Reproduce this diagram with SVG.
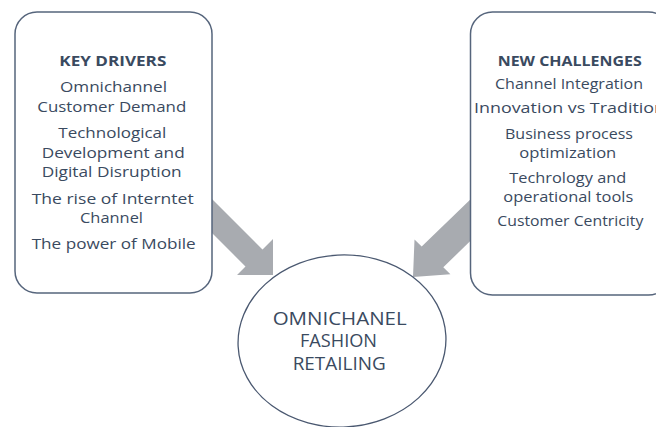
<svg xmlns="http://www.w3.org/2000/svg" width="656" height="427" viewBox="0 0 656 427">
  <style>
    .box { fill: #ffffff; stroke: #56657c; stroke-width: 1.5; }
    .arrow { fill: #a8abb0; stroke: none; }
    .t { font-family: "Open Sans", "Noto Sans", "Liberation Sans", sans-serif; font-size: 15px; fill: #3a4a60; }
    .h { font-weight: bold; }
    .c { font-size: 18px; }
  </style>
  <rect x="0" y="0" width="656" height="427" fill="#ffffff"/>
  <g id="connectors">
    <polygon class="arrow" points="200,187 262.5,249.5 273,239 273,275 237,275 245.5,266.5 200,221"/>
    <polygon class="arrow" points="475,195 421.7,246.5 414.5,239.5 413,277 450.4,274.3 443.3,267.3 497,215"/>
  </g>
  <g id="key-drivers">
    <rect class="box" x="15" y="12" width="197" height="281" rx="22" ry="22"/>
    <text class="t h" x="59.3" y="65.7" textLength="107" lengthAdjust="spacingAndGlyphs">KEY DRIVERS</text>
    <text class="t" x="60" y="92" textLength="107" lengthAdjust="spacingAndGlyphs">Omnichannel</text>
    <text class="t" x="37.3" y="111.7" textLength="149" lengthAdjust="spacingAndGlyphs">Customer Demand</text>
    <text class="t" x="58.3" y="138.3" textLength="108" lengthAdjust="spacingAndGlyphs">Technological</text>
    <text class="t" x="41.7" y="157.7" textLength="143" lengthAdjust="spacingAndGlyphs">Development and</text>
    <text class="t" x="41.7" y="176.7" textLength="140" lengthAdjust="spacingAndGlyphs">Digital Disruption</text>
    <text class="t" x="31.7" y="204" textLength="162" lengthAdjust="spacingAndGlyphs">The rise of Interntet</text>
    <text class="t" x="80" y="222.7" textLength="63" lengthAdjust="spacingAndGlyphs">Channel</text>
    <text class="t" x="31.7" y="249.3" textLength="164" lengthAdjust="spacingAndGlyphs">The power of Mobile</text>
  </g>
  <g id="new-challenges">
    <rect class="box" x="470.5" y="12" width="200" height="283" rx="22" ry="22"/>
    <text class="t h" x="497.7" y="65.7" textLength="144" lengthAdjust="spacingAndGlyphs">NEW CHALLENGES</text>
    <text class="t" x="495" y="89" textLength="148" lengthAdjust="spacingAndGlyphs">Channel Integration</text>
    <text class="t" x="474" y="113.3" textLength="191" lengthAdjust="spacingAndGlyphs">Innovation vs Tradition</text>
    <text class="t" x="505" y="139" textLength="128" lengthAdjust="spacingAndGlyphs">Business process</text>
    <text class="t" x="519.3" y="158" textLength="97" lengthAdjust="spacingAndGlyphs">optimization</text>
    <text class="t" x="509.3" y="183" textLength="117" lengthAdjust="spacingAndGlyphs">Techrology and</text>
    <text class="t" x="503.3" y="202" textLength="130" lengthAdjust="spacingAndGlyphs">operational tools</text>
    <text class="t" x="497.3" y="226" textLength="146" lengthAdjust="spacingAndGlyphs">Customer Centricity</text>
  </g>
  <g id="omnichannel-retailing">
    <ellipse cx="342" cy="341" rx="104" ry="86" fill="#ffffff" stroke="#4a5870" stroke-width="1.3" transform="rotate(-3 342 341)"/>
    <text class="t c" x="272.7" y="324.5" textLength="134" lengthAdjust="spacingAndGlyphs">OMNICHANEL</text>
    <text class="t c" x="300" y="347" textLength="77" lengthAdjust="spacingAndGlyphs">FASHION</text>
    <text class="t c" x="292.7" y="369.5" textLength="93" lengthAdjust="spacingAndGlyphs">RETAILING</text>
  </g>
</svg>
